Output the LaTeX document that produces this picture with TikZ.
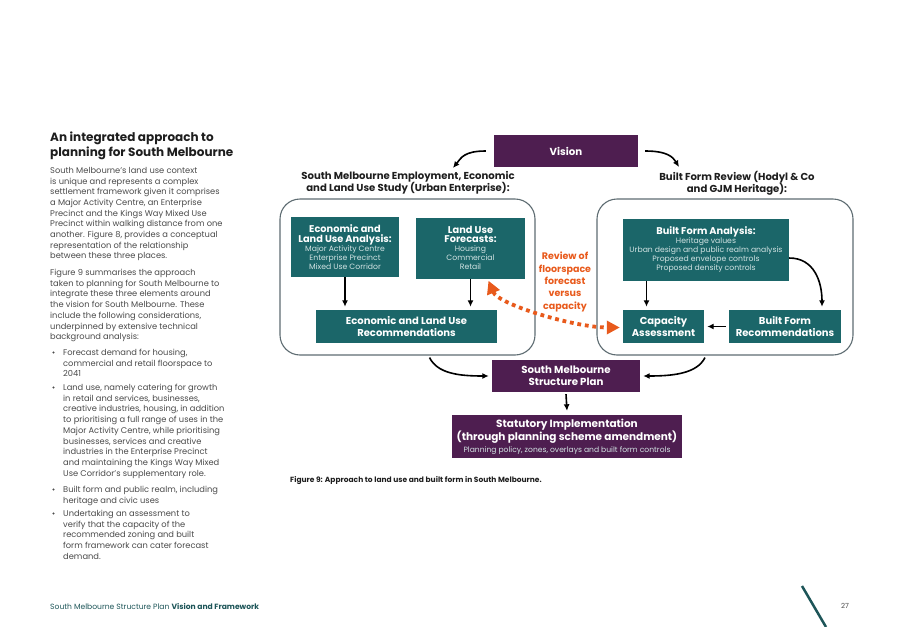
\documentclass[tikz,border=0pt]{standalone}
\usepackage{fontspec}
\setmainfont{Poppins}
\usepackage{xcolor}
\usepackage{tikz}
\usetikzlibrary{positioning}
\usetikzlibrary{arrows,arrows.meta}
\definecolor{smteal}{HTML}{1B6669}
\definecolor{smpale}{HTML}{D2E3E3}
\definecolor{smpurple}{HTML}{4E1E50}
\definecolor{smorange}{HTML}{E85A1C}
\definecolor{smframe}{HTML}{5E6C72}
\definecolor{smgray}{HTML}{4A4A4A}
\definecolor{smblack}{HTML}{1E1E1E}
\definecolor{smdark}{HTML}{1D5558}
\tikzset{edge/.style = {->,> = {Latex[length=6.5pt,width=6pt]}, line width=1.6pt}}
\newcommand\boxtitle[1]{{\color{white}\fontsize{9.8}{11.5}\selectfont\bfseries #1}}

\begin{document}
\begin{tikzpicture}[x=1pt,y=-1pt,
  tealbox/.style={fill=smteal,text=smpale,inner sep=2pt,align=center,font=\fontsize{7.7}{9}\selectfont},
  purplebox/.style={fill=smpurple,text=white,align=center,font=\fontsize{10.2}{12}\selectfont\bfseries},
  studybox/.style={draw=smframe,line width=1.1pt,rounded corners=20pt},
  headtext/.style={align=center,inner sep=0pt,text=smblack,font=\fontsize{10.1}{12}\selectfont\bfseries},
  bodytext/.style={anchor=north west,align=left,inner sep=0pt,text=smgray,font=\fontsize{8.3}{10.7}\selectfont},
  bulletdot/.style={circle,fill=smgray,inner sep=0pt,minimum size=2.2pt},
  reviewarrow/.style={{Triangle[length=13pt,width=13pt]}-{Triangle[length=13pt,width=13pt]},smorange,line width=3.8pt,dash pattern=on 3.8pt off 3.8pt}]
  \useasboundingbox (0,0) rectangle (898,627);

  % left column
  \node[bodytext,text=smblack,font=\fontsize{12}{15}\selectfont\bfseries] (title) at (50,132) {An integrated approach to\\planning for South Melbourne};
  \node[bodytext] (para1) at (50,167) {South Melbourne’s land use context\\is unique and represents a complex\\settlement framework given it comprises\\a Major Activity Centre, an Enterprise\\Precinct and the Kings Way Mixed Use\\Precinct within walking distance from one\\another. Figure 8, provides a conceptual\\representation of the relationship\\between these three places.};
  \node[bodytext] (para2) at (50,269) {Figure 9 summarises the approach\\taken to planning for South Melbourne to\\integrate these three elements around\\the vision for South Melbourne. These\\include the following considerations,\\underpinned by extensive technical\\background analysis:};
  \node[bulletdot] (dot1) at (53.5,352.5) {};
  \node[bodytext] (item1) at (63,349) {Forecast demand for housing,\\commercial and retail floorspace to\\2041};
  \node[bulletdot] (dot2) at (53.5,387.5) {};
  \node[bodytext] (item2) at (63,384) {Land use, namely catering for growth\\in retail and services, businesses,\\creative industries, housing, in addition\\to prioritising a full range of uses in the\\Major Activity Centre, while prioritising\\businesses, services and creative\\industries in the Enterprise Precinct\\and maintaining the Kings Way Mixed\\Use Corridor’s supplementary role.};
  \node[bulletdot] (dot3) at (53.5,489.5) {};
  \node[bodytext] (item3) at (63,486) {Built form and public realm, including\\heritage and civic uses};
  \node[bulletdot] (dot4) at (53.5,513.5) {};
  \node[bodytext] (item4) at (63,510) {Undertaking an assessment to\\verify that the capacity of the\\recommended zoning and built\\form framework can cater forecast\\demand.};

  % diagram
  \node[purplebox,minimum width=144pt,minimum height=32pt] (vision) at (566,151) {Vision};
  \node[headtext] (studyhead) at (408,183) {South Melbourne Employment, Economic\\and Land Use Study (Urban Enterprise):};
  \node[headtext] (reviewhead) at (737,183) {Built Form Review (Hodyl \& Co\\and GJM Heritage):};
  \coordinate (studytop) at (453,168);
  \coordinate (reviewtop) at (679,167);

  \node[studybox,minimum width=255pt,minimum height=156pt] (studyframe) at (407.5,277) {};
  \node[studybox,minimum width=256pt,minimum height=156pt] (reviewframe) at (725,277) {};

  \node[tealbox,minimum width=108pt,minimum height=60pt] (analysis) at (345,247) {\boxtitle{Economic and}\\[0.5pt]\boxtitle{Land Use Analysis:}\\Major Activity Centre\\Enterprise Precinct\\Mixed Use Corridor};
  \node[tealbox,minimum width=109pt,minimum height=61pt] (forecasts) at (470.5,248) {\boxtitle{Land Use}\\[0.5pt]\boxtitle{Forecasts:}\\Housing\\Commercial\\Retail};
  \node[tealbox,font=\fontsize{10}{12}\selectfont\bfseries,text=white,minimum width=181pt,minimum height=33pt] (landrec) at (406.5,326.5) {Economic and Land Use\\Recommendations};

  \node[tealbox,minimum width=166pt,minimum height=62pt] (bfanalysis) at (706,250) {\boxtitle{Built Form Analysis:}\\Heritage values\\Urban design and public realm analysis\\Proposed envelope controls\\Proposed density controls};
  \node[tealbox,font=\fontsize{10}{12}\selectfont\bfseries,text=white,minimum width=81pt,minimum height=33pt] (capacity) at (663.5,326.5) {Capacity\\Assessment};
  \node[tealbox,font=\fontsize{10}{12}\selectfont\bfseries,text=white,minimum width=112pt,minimum height=33pt] (bfrec) at (785,326.5) {Built Form\\Recommendations};

  \node[align=center,inner sep=0pt,text=smorange,font=\fontsize{9.5}{12.3}\selectfont\bfseries] (review) at (565,282) {Review of\\floorspace\\forecast\\versus\\capacity};

  \node[purplebox,minimum width=148pt,minimum height=32pt] (plan) at (566,376) {South Melbourne\\Structure Plan};
  \node[purplebox,minimum width=230pt,minimum height=43pt,font=\fontsize{10.5}{11.5}\selectfont\bfseries] (statutory) at (567,436.5) {Statutory Implementation\\(through planning scheme amendment)\\{\mdseries\fontsize{7.6}{9}\selectfont\color{smpale}Planning policy, zones, overlays and built form controls}};

  % connectors
  \draw[edge] ([xshift=-8pt]vision.west) .. controls +(-22,0) and +(8,-10) .. (studytop);
  \draw[edge] ([xshift=7pt]vision.east) .. controls +(22,0) and +(-6,-10) .. (reviewtop);
  \path[edge] (analysis.south) edge ([yshift=3pt]analysis.south |- landrec.north)
              (forecasts.south) edge ([yshift=3pt]forecasts.south |- landrec.north);
  \draw[edge] ([xshift=-17pt]capacity.north |- bfanalysis.south) -- ([xshift=-17pt,yshift=3pt]capacity.north);
  \draw[edge] ([yshift=-8pt]bfanalysis.east) .. controls +(25,0) and +(0,-25) .. ([xshift=37pt,yshift=3pt]bfrec.north);
  \draw[edge] ([xshift=-3pt]bfrec.west) -- ([xshift=3pt]capacity.east);
  \draw[reviewarrow] ([xshift=18pt,yshift=-2pt]forecasts.south) .. controls +(10,24) and +(-45,0) .. ([xshift=-3pt,yshift=-1pt]capacity.west);
  \draw[edge] ([xshift=22pt,yshift=-2pt]studyframe.south) .. controls +(8,16) and +(-30,0) .. ([xshift=-3pt]plan.west);
  \draw[edge] ([xshift=-20pt,yshift=-2pt]reviewframe.south) .. controls +(-8,16) and +(30,0) .. ([xshift=3pt]plan.east);
  \draw[edge] ([yshift=-2pt]plan.south) -- ([yshift=4pt]statutory.north);

  % caption and footer
  \node[anchor=west,inner sep=0pt,text=smblack,font=\fontsize{7.5}{8}\selectfont\bfseries] (caption) at (290,481) {Figure 9: Approach to land use and built form in South Melbourne.};
  \node[anchor=west,inner sep=0pt,text=smdark,font=\fontsize{7.6}{8}\selectfont] (footer) at (50,606) {South Melbourne Structure Plan \textbf{Vision and Framework}};
  \node[inner sep=0pt,text=smgray,font=\fontsize{7}{8}\selectfont] (pagenum) at (845,606) {27};
  \draw[smdark,line width=2.5pt] (802,586) -- (826,627);
\end{tikzpicture}
\end{document}
